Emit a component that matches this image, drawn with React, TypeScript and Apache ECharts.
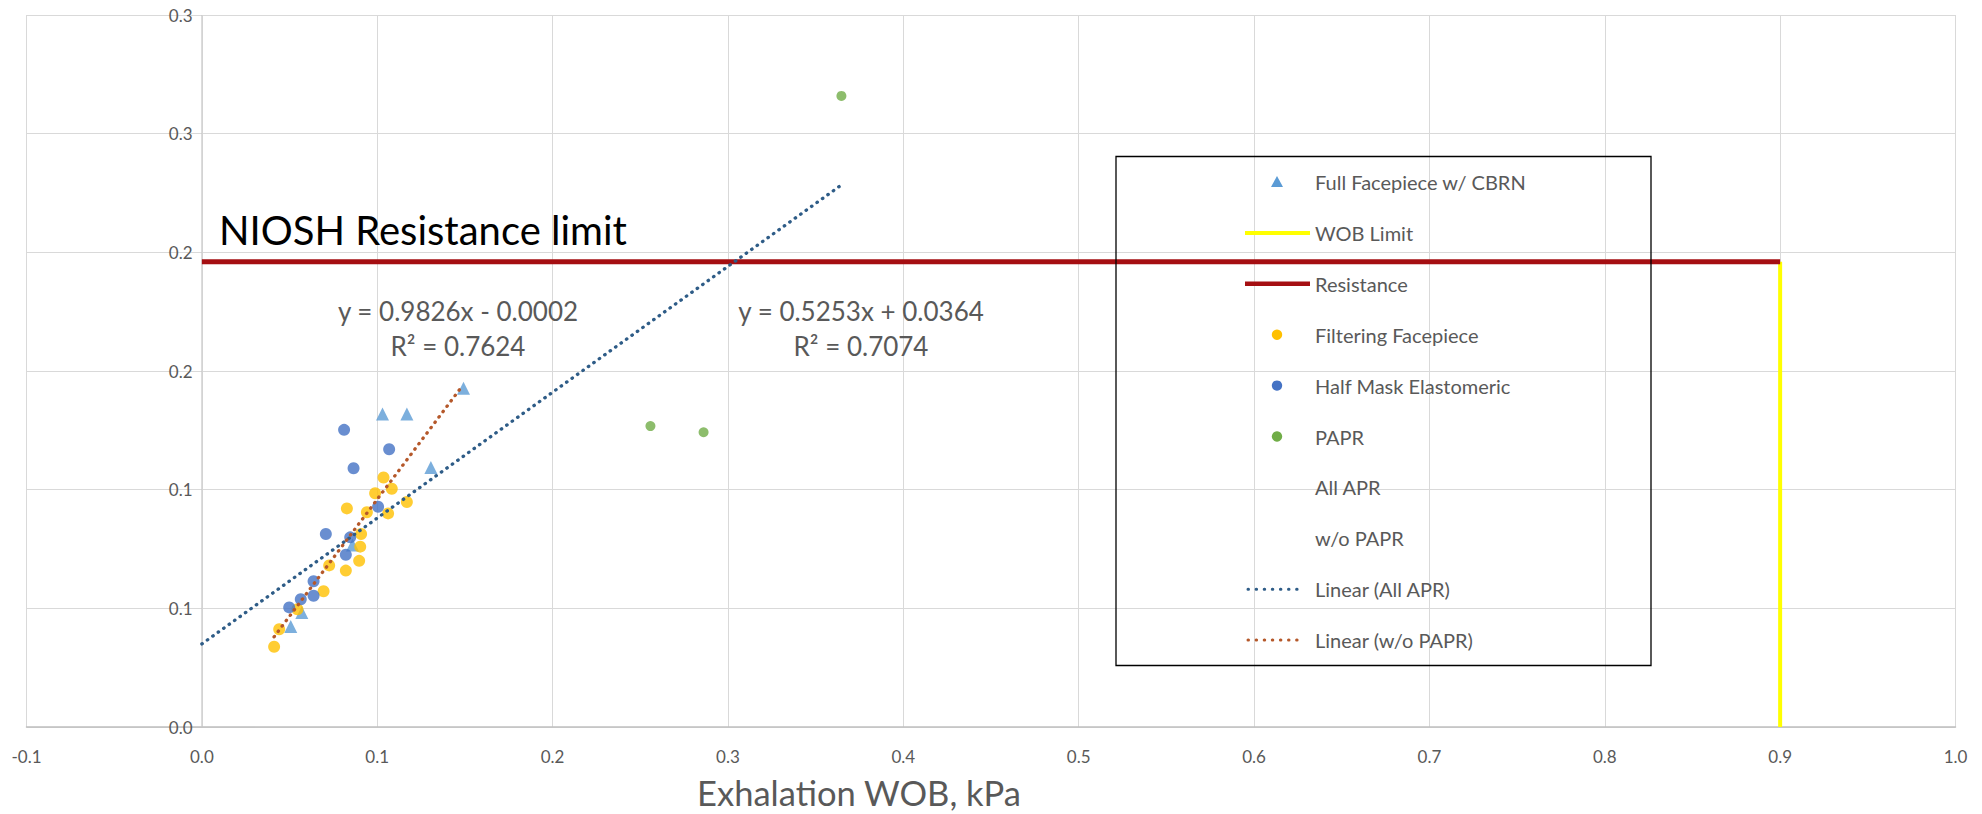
import React, { useEffect, useRef } from "react";
import * as echarts from "echarts";

// ---- Data ----
const fullFacepiece: number[][] = [
  [0.1492, 0.1427], [0.1030, 0.1319], [0.1169, 0.1319], [0.1306, 0.1093],
  [0.0570, 0.0482], [0.0507, 0.0423], [0.0859, 0.0767],
];
const filteringFacepiece: number[][] = [
  [0.1036, 0.1051], [0.1083, 0.1004], [0.0988, 0.0985], [0.0827, 0.0921],
  [0.1169, 0.0948], [0.0941, 0.0905], [0.1062, 0.0900], [0.0908, 0.0813],
  [0.0903, 0.0760], [0.0897, 0.0700], [0.0726, 0.0681], [0.0821, 0.0659],
  [0.0694, 0.0572], [0.0545, 0.0496], [0.0441, 0.0412], [0.0412, 0.0338],
];
const halfMask: number[][] = [
  [0.0811, 0.1252], [0.1068, 0.1170], [0.0865, 0.1090], [0.1005, 0.0928],
  [0.0707, 0.0813], [0.0846, 0.0799], [0.0821, 0.0726], [0.0637, 0.0614],
  [0.0637, 0.0553], [0.0564, 0.0538], [0.0498, 0.0504],
];
const papr: number[][] = [
  [0.2558, 0.1268], [0.2861, 0.1242], [0.3647, 0.2659],
];
const resistanceLine: number[][] = [[0, 0.196], [0.9, 0.196]];
const wobLimitLine: number[][] = [[0.9, 0], [0.9, 0.196]];
const linearAllApr: number[][] = [[0, 0.035], [0.3634, 0.2277]];
const linearWoPapr: number[][] = [[0.0412, 0.038], [0.148, 0.1432]];

const yTickLabels: string[] = ["0.0", "0.1", "0.1", "0.2", "0.2", "0.3", "0.3"];
const legendNames: string[] = [
  "Full Facepiece w/ CBRN", "WOB Limit", "Resistance", "Filtering Facepiece",
  "Half Mask Elastomeric", "PAPR", "All APR", "w/o PAPR",
  "Linear (All APR)", "Linear (w/o PAPR)",
];
const eq1: string[] = ["y = 0.9826x - 0.0002", "R\u00B2 = 0.7624"];
const eq2: string[] = ["y = 0.5253x + 0.0364", "R\u00B2 = 0.7074"];
const annotation = "NIOSH Resistance limit";
const xTitle = "Exhalation WOB, kPa";

const FONT = "Lato, 'Open Sans', sans-serif";
const GRAY = "#595959";
const C_FULL = "#5B9BD5";
const C_WOB = "#FFFF00";
const C_RES = "#A50F12";
const C_FILT = "#FFC000";
const C_HALF = "#4472C4";
const C_PAPR = "#70AD47";
const C_LIN_ALL = "#2E5C87";
const C_LIN_WO = "#B5582A";

type Icon =
  | { kind: "triangle"; color: string }
  | { kind: "circle"; color: string }
  | { kind: "line"; color: string; width: number }
  | { kind: "dotted"; color: string }
  | { kind: "none" };

const legendIcons: Icon[] = [
  { kind: "triangle", color: C_FULL },
  { kind: "line", color: C_WOB, width: 4 },
  { kind: "line", color: C_RES, width: 4.5 },
  { kind: "circle", color: C_FILT },
  { kind: "circle", color: C_HALF },
  { kind: "circle", color: C_PAPR },
  { kind: "none" },
  { kind: "none" },
  { kind: "dotted", color: C_LIN_ALL },
  { kind: "dotted", color: C_LIN_WO },
];

function buildLegend(): any[] {
  const els: any[] = [];
  const top = 182;
  const step = 50.9;
  const iconCx = 1277;
  const textX = 1315;
  legendNames.forEach((name, i) => {
    const cy = top + i * step;
    const ic = legendIcons[i];
    if (ic.kind === "triangle") {
      els.push({
        type: "polygon", silent: true, z: 10,
        shape: { points: [[iconCx, cy - 6], [iconCx + 6, cy + 5], [iconCx - 6, cy + 5]] },
        style: { fill: ic.color },
      });
    } else if (ic.kind === "circle") {
      els.push({
        type: "circle", silent: true, z: 10,
        shape: { cx: iconCx, cy, r: 5.2 },
        style: { fill: ic.color },
      });
    } else if (ic.kind === "line") {
      els.push({
        type: "line", silent: true, z: 10,
        shape: { x1: 1245, y1: cy, x2: 1310, y2: cy },
        style: { stroke: ic.color, lineWidth: ic.width },
      });
    } else if (ic.kind === "dotted") {
      els.push({
        type: "line", silent: true, z: 10,
        shape: { x1: 1248, y1: cy, x2: 1302, y2: cy },
        style: { stroke: ic.color, lineWidth: 3, lineDash: [0.5, 7.6], lineCap: "round" },
      });
    }
    els.push({
      type: "text", x: textX, y: cy, silent: true, z: 10,
      style: { text: name, fontSize: 20, fontFamily: FONT, fill: GRAY, align: "left", verticalAlign: "middle" },
    });
  });
  return els;
}

export default function App() {
  const ref = useRef<HTMLDivElement>(null);
  useEffect(() => {
    if (!ref.current) return;
    const chart = echarts.init(ref.current, undefined, { renderer: "svg" });
    const dotted = (color: string) => ({
      color, width: 3.3, type: [0.5, 6.2] as number[], cap: "round" as const,
    });
    chart.setOption({
      animation: false,
      backgroundColor: "#fff",
      grid: {
        left: 26.5, right: 26.5, top: 15, bottom: 87,
        containLabel: false, outerBoundsMode: "none",
      },
      xAxis: {
        type: "value", min: -0.1, max: 1.0, interval: 0.1,
        axisLine: { show: true, onZero: false, lineStyle: { color: "#BFBFBF", width: 1.5 } },
        axisTick: { show: false },
        splitLine: { show: true, lineStyle: { color: "#D9D9D9", width: 1 } },
        axisLabel: {
          margin: 21, color: GRAY, fontSize: 17, fontFamily: FONT,
          formatter: (v: number) => (Math.round(v * 10) / 10).toFixed(1),
        },
      },
      yAxis: {
        type: "value", min: 0, max: 0.3, interval: 0.05,
        axisLine: { show: false, onZero: false },
        axisTick: { show: false },
        splitLine: { show: true, lineStyle: { color: "#D9D9D9", width: 1 } },
        axisLabel: {
          // labels sit just left of the x = 0 line, as in the reference
          margin: -166, color: GRAY, fontSize: 17, fontFamily: FONT,
          formatter: (v: number) => yTickLabels[Math.round(v / 0.05)] ?? "",
        },
      },
      series: [
        {
          name: legendNames[0], type: "scatter", symbol: "triangle", symbolSize: 13,
          itemStyle: { color: C_FULL }, data: fullFacepiece,
        },
        {
          name: legendNames[1], type: "line", symbol: "none",
          lineStyle: { color: C_WOB, width: 4 }, itemStyle: { color: C_WOB },
          data: wobLimitLine,
        },
        {
          name: legendNames[2], type: "line", symbol: "none",
          lineStyle: { color: C_RES, width: 5 }, itemStyle: { color: C_RES },
          data: resistanceLine,
        },
        {
          name: legendNames[3], type: "scatter", symbol: "circle", symbolSize: 12,
          itemStyle: { color: C_FILT }, data: filteringFacepiece,
        },
        {
          name: legendNames[4], type: "scatter", symbol: "circle", symbolSize: 12,
          itemStyle: { color: C_HALF }, data: halfMask,
        },
        {
          name: legendNames[5], type: "scatter", symbol: "circle", symbolSize: 10,
          itemStyle: { color: C_PAPR }, data: papr,
        },
        {
          name: legendNames[8], type: "line", symbol: "none",
          lineStyle: dotted(C_LIN_ALL), itemStyle: { color: C_LIN_ALL },
          data: linearAllApr, z: 5,
        },
        {
          name: legendNames[9], type: "line", symbol: "none",
          lineStyle: dotted(C_LIN_WO), itemStyle: { color: C_LIN_WO },
          data: linearWoPapr, z: 5,
        },
        {
          // y-axis line at x = 0 (gray, like the reference)
          name: "yAxisLine", type: "line", symbol: "none", silent: true, z: 1,
          lineStyle: { color: "#C8C8C8", width: 1 },
          data: [[0, 0], [0, 0.3]],
        },
      ],
      graphic: [
        {
          type: "rect", silent: true, z: 10,
          shape: { x: 1116, y: 156.5, width: 535, height: 509 },
          style: { fill: "none", stroke: "#000", lineWidth: 1.3 },
        },
        ...buildLegend(),
        {
          type: "text", x: 219, y: 229.8, silent: true, z: 10,
          style: {
            text: annotation, fontSize: 40, fontFamily: FONT, fill: "#000",
            align: "left", verticalAlign: "middle",
          },
        },
        {
          type: "text", x: 458, y: 311, silent: true, z: 10,
          style: { text: eq1[0], fontSize: 26, fontFamily: FONT, fill: GRAY, align: "center", verticalAlign: "middle" },
        },
        {
          type: "text", x: 458, y: 345.5, silent: true, z: 10,
          style: { text: eq1[1], fontSize: 26, fontFamily: FONT, fill: GRAY, align: "center", verticalAlign: "middle" },
        },
        {
          type: "text", x: 861, y: 311, silent: true, z: 10,
          style: { text: eq2[0], fontSize: 26, fontFamily: FONT, fill: GRAY, align: "center", verticalAlign: "middle" },
        },
        {
          type: "text", x: 861, y: 345.5, silent: true, z: 10,
          style: { text: eq2[1], fontSize: 26, fontFamily: FONT, fill: GRAY, align: "center", verticalAlign: "middle" },
        },
        {
          type: "text", x: 859, y: 792, silent: true, z: 10,
          style: { text: xTitle, fontSize: 34.5, fontFamily: FONT, fill: GRAY, align: "center", verticalAlign: "middle" },
        },
      ],
    });
    return () => chart.dispose();
  }, []);
  return (
    <div
      ref={ref}
      style={{ position: "absolute", left: 0, top: 0, width: 1982, height: 814 }}
    />
  );
}
